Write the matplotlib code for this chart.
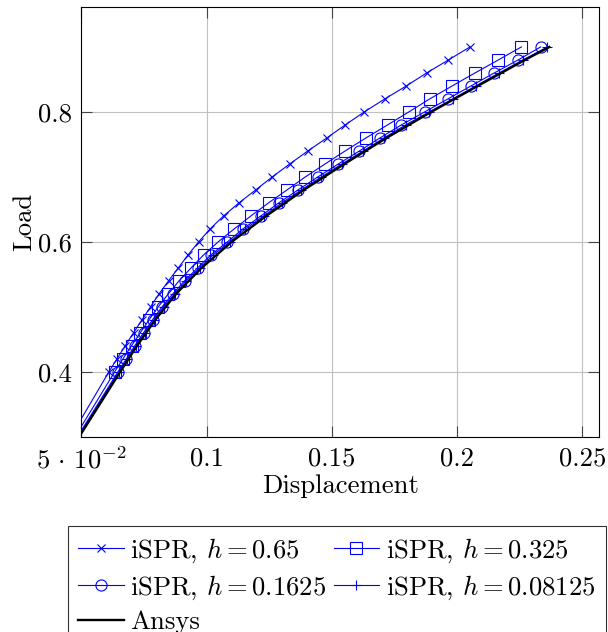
import matplotlib
matplotlib.use("Agg")
import matplotlib.pyplot as plt

plt.rcParams['font.family'] = 'serif'
plt.rcParams['font.serif'] = ['cmr10']
plt.rcParams['mathtext.fontset'] = 'cm'
plt.rcParams['axes.formatter.use_mathtext'] = True
plt.rcParams['axes.unicode_minus'] = False

# Load levels (markers every 0.02), plus origin point
load = [0.0, 0.40, 0.42, 0.44, 0.46, 0.48, 0.50, 0.52, 0.54, 0.56, 0.58, 0.60, 0.62,
        0.64, 0.66, 0.68, 0.70, 0.72, 0.74, 0.76, 0.78, 0.80, 0.82, 0.84, 0.86,
        0.88, 0.90]

disp_h065 = [0.0, 0.0610, 0.0642, 0.0675, 0.0708, 0.0742, 0.0776, 0.0810, 0.0848, 0.0887,
             0.0926, 0.0968, 0.1014, 0.1068, 0.1129, 0.1196, 0.1262, 0.1332, 0.1404,
             0.1480, 0.1553, 0.1629, 0.1711, 0.1797, 0.1878, 0.1965, 0.2051]
disp_h0325 = [0.0, 0.0633, 0.0666, 0.0700, 0.0735, 0.0770, 0.0807, 0.0847, 0.0890, 0.0938,
              0.0988, 0.1046, 0.1110, 0.1177, 0.1247, 0.1321, 0.1394, 0.1473, 0.1553,
              0.1636, 0.1722, 0.1807, 0.1890, 0.1980, 0.2071, 0.2164, 0.2256]
disp_h01625 = [0.0, 0.0646, 0.0680, 0.0713, 0.0748, 0.0784, 0.0822, 0.0865, 0.0912, 0.0964,
               0.1017, 0.1083, 0.1145, 0.1217, 0.1288, 0.1365, 0.1444, 0.1526, 0.1610,
               0.1692, 0.1777, 0.1870, 0.1963, 0.2055, 0.2148, 0.2243, 0.2333]
disp_h008125 = [0.0, 0.0650, 0.0684, 0.0718, 0.0753, 0.0790, 0.0828, 0.0872, 0.0919, 0.0972,
                0.1026, 0.1092, 0.1155, 0.1228, 0.1300, 0.1378, 0.1458, 0.1540, 0.1625,
                0.1708, 0.1794, 0.1888, 0.1982, 0.2074, 0.2167, 0.2262, 0.2360]

ansys_load = [0.0, 0.40, 0.44, 0.48, 0.52, 0.56, 0.60, 0.64, 0.68, 0.72, 0.76, 0.80,
              0.84, 0.88, 0.90]
ansys_disp = [0.0, 0.0655, 0.0722, 0.0795, 0.0878, 0.0980, 0.1100, 0.1238, 0.1388,
              0.1550, 0.1718, 0.1896, 0.2082, 0.2270, 0.2368]

labels = [r'iSPR, $h = 0.65$', r'iSPR, $h = 0.325$', r'iSPR, $h = 0.1625$',
          r'iSPR, $h = 0.08125$', 'Ansys']

xticks = [0.05, 0.1, 0.15, 0.2, 0.25]
xticklabels = [r'$5\,\cdot\,10^{-2}$', '0.1', '0.15', '0.2', '0.25']
yticks = [0.4, 0.6, 0.8]
yticklabels = ['0.4', '0.6', '0.8']

FS = 19.2
fig = plt.figure(figsize=(6.08, 6.32), dpi=100)
ax = fig.add_axes([81.4 / 608, 1 - 436.7 / 632, (599 - 81.4) / 608, (436.7 - 6.7) / 632])

blue = '#0000ff'
common = dict(color=blue, lw=0.8, mfc='none', mec=blue, mew=0.8, markevery=slice(1, None))
l1, = ax.plot(disp_h065, load, marker='x', ms=6, **common)
l2, = ax.plot(disp_h0325, load, marker='s', ms=8.5, **common)
l3, = ax.plot(disp_h01625, load, marker='o', ms=8, **common)
l4, = ax.plot(disp_h008125, load, marker='+', ms=7.5, **common)
l5, = ax.plot(ansys_disp, ansys_load, color='black', lw=1.7)

ax.set_xlim(0.05, 0.2566)
ax.set_ylim(0.300, 0.962)
ax.set_xticks(xticks)
ax.set_xticklabels(xticklabels, fontsize=FS)
ax.set_yticks(yticks)
ax.set_yticklabels(yticklabels, fontsize=FS)
ax.tick_params(direction='in', length=8, width=0.8, color='#444444', top=True, right=True, pad=7)
ax.grid(True, color='#c0c0c0', lw=0.8)
ax.set_axisbelow(True)
for s in ax.spines.values():
    s.set_linewidth(0.8)

ax.set_xlabel('Displacement', fontsize=FS, labelpad=1)
ax.set_ylabel('Load', fontsize=FS)
ax.yaxis.set_label_coords(-0.088, 0.5)

handles = [l1, l3, l5, l2, l4]
hlabels = [labels[0], labels[2], labels[4], labels[1], labels[3]]
leg = fig.legend(handles, hlabels, ncol=2, loc='upper left',
                 bbox_to_anchor=(67.7 / 608, 1 - 525.5 / 632), bbox_transform=fig.transFigure,
                 fontsize=FS, frameon=True, fancybox=False, edgecolor='black',
                 handlelength=1.7, handletextpad=0.25, columnspacing=0.26,
                 labelspacing=0.33, borderpad=0.4, borderaxespad=0)
leg.get_frame().set_linewidth(0.8)

fig.savefig('out.png', dpi=100)
